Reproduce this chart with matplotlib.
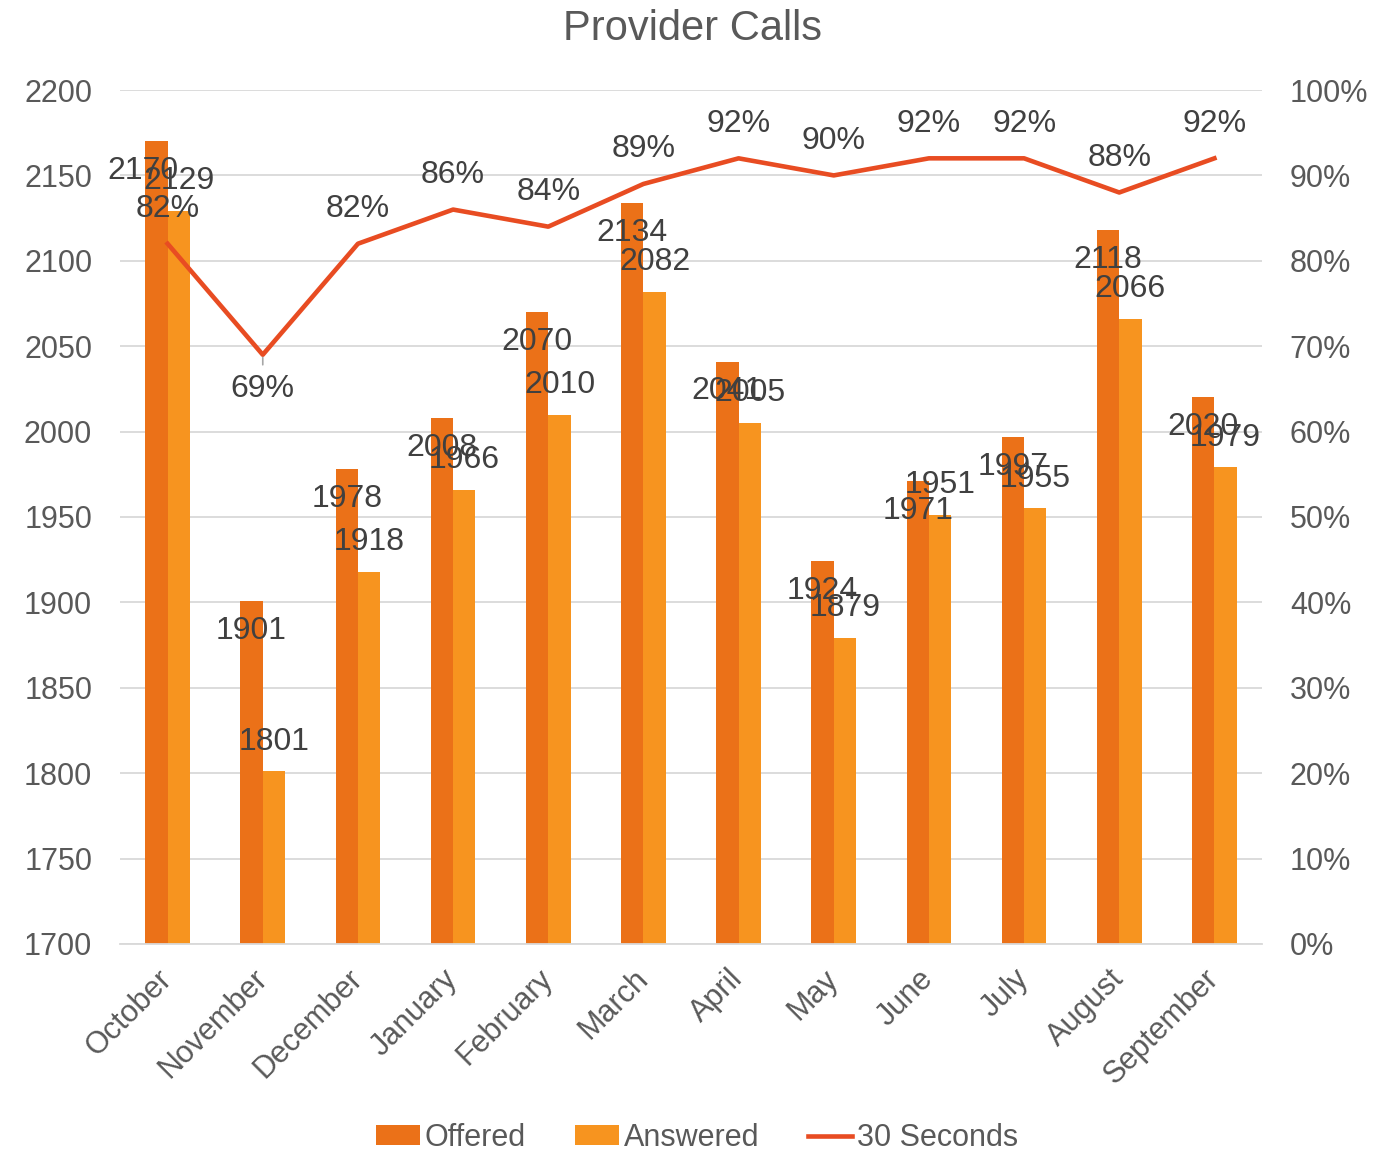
import matplotlib
matplotlib.use("Agg")
import matplotlib.pyplot as plt
import numpy as np
from matplotlib.ticker import FuncFormatter, MultipleLocator

months = ["October", "November", "December", "January", "February", "March",
          "April", "May", "June", "July", "August", "September"]
offered = [2170, 1901, 1978, 2008, 2070, 2134, 2041, 1924, 1971, 1997, 2118, 2020]
answered = [2129, 1801, 1918, 1966, 2010, 2082, 2005, 1879, 1951, 1955, 2066, 1979]
pct30 = [82, 69, 82, 86, 84, 89, 92, 90, 92, 92, 88, 92]

plt.rcParams['font.family'] = ['Liberation Sans', 'DejaVu Sans']

c_off = "#EB7118"
c_ans = "#F7941F"
c_line = "#E84C22"
c_text = "#404040"
c_tick = "#595959"
fs = 22

fig = plt.figure(figsize=(13.94, 11.54), dpi=100)
ax = fig.add_axes([0.0861, 0.182, 0.8192, 0.740])
ax2 = ax.twinx()

x = np.arange(len(months))
w = 0.235
b1 = ax.bar(x - w / 2, offered, w, color=c_off, label="Offered", zorder=2)
b2 = ax.bar(x + w / 2, answered, w, color=c_ans, label="Answered", zorder=2)

ax.set_xlim(-0.5, len(months) - 0.5)
ax.set_ylim(1700, 2200)
ax.yaxis.set_major_locator(MultipleLocator(50))
ax.grid(axis='y', color="#D9D9D9", linewidth=1.3, zorder=0)
ax.set_axisbelow(True)
for s in ["top", "right", "left"]:
    ax.spines[s].set_visible(False)
ax.spines["bottom"].set_color("#D9D9D9")
ax.spines["bottom"].set_linewidth(1.3)
ax.tick_params(axis='y', length=0, labelsize=fs, labelcolor=c_tick, pad=20)
ax.tick_params(axis='x', length=0, labelsize=fs, labelcolor=c_tick, pad=22)
ax.set_xticks(x)
ax.set_xticklabels(months, rotation=45, ha='right', va='center', rotation_mode='anchor')

line, = ax2.plot(x, pct30, color=c_line, linewidth=3.3, label="30 Seconds", zorder=3)
ax2.set_ylim(0, 100)
ax2.yaxis.set_major_locator(MultipleLocator(10))
ax2.yaxis.set_major_formatter(FuncFormatter(lambda v, p: f"{int(round(v))}%"))
for s in ["top", "right", "left", "bottom"]:
    ax2.spines[s].set_visible(False)
ax2.tick_params(axis='y', length=0, labelsize=fs, labelcolor=c_tick, pad=20)

# data labels
lfs = 23
for i, v in enumerate(offered):
    dx = -10 if i == 0 else 0
    ax.annotate(str(v), (x[i] - w / 2, v), xytext=(dx, -21.5), textcoords='offset points',
                ha='center', va='center', fontsize=lfs, color=c_text, zorder=5)
for i, v in enumerate(answered):
    ax.annotate(str(v), (x[i] + w / 2, v), xytext=(0, 21.5), textcoords='offset points',
                ha='center', va='center', fontsize=lfs, color=c_text, zorder=5)
for i, v in enumerate(pct30):
    if i == 1:
        ax2.annotate(f"{v}%", (x[i], v), xytext=(0, -25), textcoords='offset points',
                     ha='center', va='center', fontsize=lfs, color=c_text, zorder=5)
        ax2.annotate("", (x[i], v), xytext=(x[i], v - 1.5), textcoords='data',
                     arrowprops=dict(arrowstyle='-', color="#A6A6A6", lw=1.2))
    else:
        ax2.annotate(f"{v}%", (x[i], v), xytext=(0, 25), textcoords='offset points',
                     ha='center', va='center', fontsize=lfs, color=c_text, zorder=5)

fig.text(0.497, 0.975, "Provider Calls", ha='center', va='center', fontsize=30, color=c_tick)

handles = [b1, b2, line]
fig.legend(handles, [h.get_label() for h in handles], loc='center',
           bbox_to_anchor=(0.5, 1 - 1138 / 1154), ncol=3, frameon=False, fontsize=fs,
           labelcolor=c_tick, handlelength=1.45, handleheight=0.65, handletextpad=0.15,
           columnspacing=1.6)

fig.savefig("out.png", dpi=100)
